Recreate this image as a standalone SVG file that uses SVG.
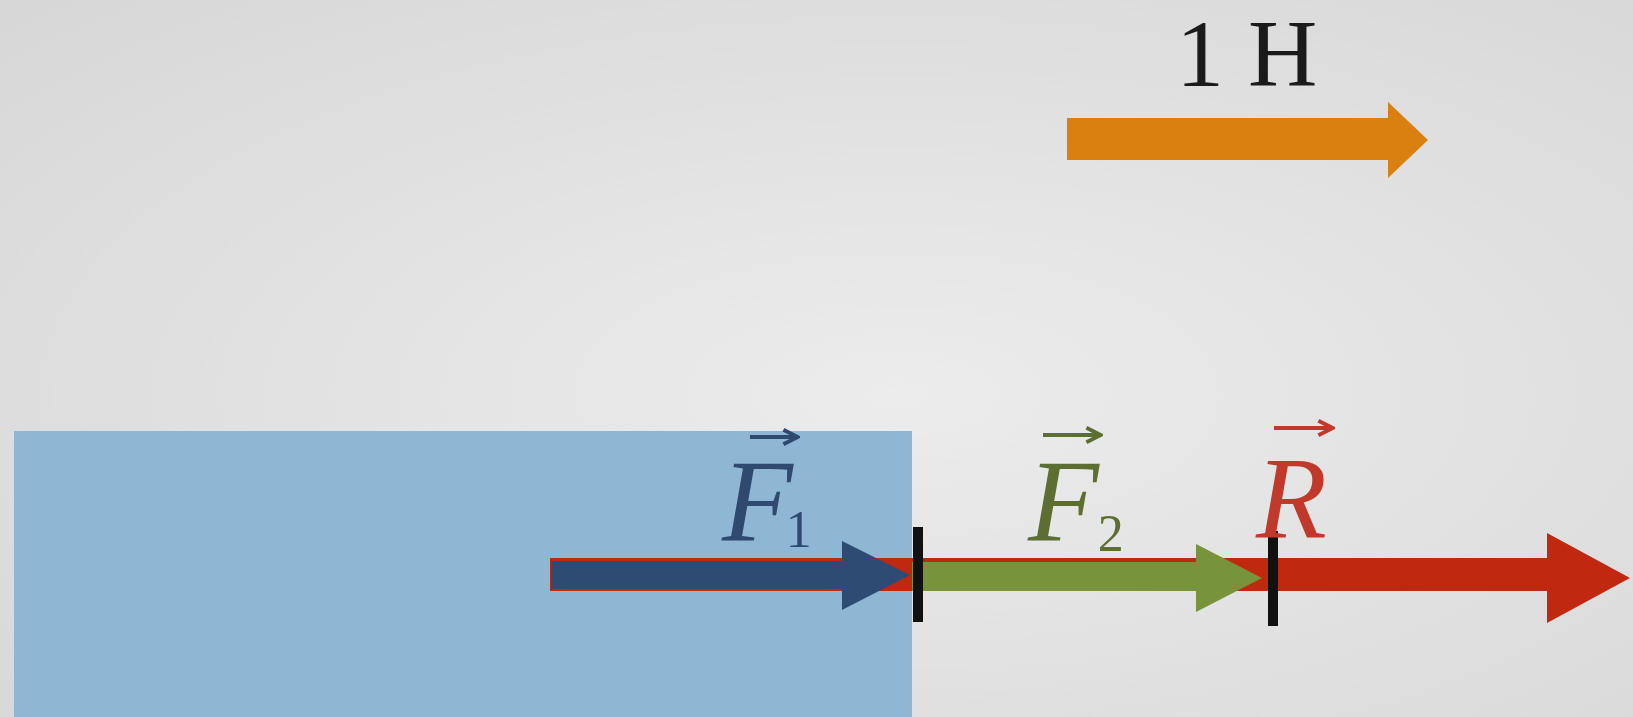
<svg xmlns="http://www.w3.org/2000/svg" width="1633" height="717" viewBox="0 0 1633 717">
<defs>
<radialGradient id="bg" cx="0.55" cy="0.55" r="0.8">
<stop offset="0" stop-color="#ececec"/>
<stop offset="1" stop-color="#d6d6d6"/>
</radialGradient>
<marker id="vec" viewBox="0 0 10 10" refX="8" refY="5" markerWidth="4.5" markerHeight="4.5" orient="auto" markerUnits="strokeWidth">
<path d="M1,1 L9,5 L1,9" fill="none" stroke="context-stroke" stroke-width="2.2"/>
</marker>
</defs>
<style>
.lbl{font-family:"Liberation Serif","DejaVu Serif",serif;font-style:italic;font-size:116px}
.sub{font-style:normal;font-size:52px}
.unit{font-family:"Liberation Serif","DejaVu Serif",serif;font-size:96px;fill:#1a1a1a}
.tick{fill:#111}
.va{stroke-width:4;fill:none}
</style>
<rect x="0" y="0" width="1633" height="717" fill="url(#bg)"/>
<g id="block"><rect x="14" y="431" width="898" height="286" fill="#8fb7d3"/></g>
<g id="scale">
<text class="unit" x="1176" y="86">1 H</text>
</g>
<g id="connectors">
<polygon id="scale-arrow" points="1067,118 1388,118 1388,102 1428,140 1388,178 1388,160 1067,160" fill="#d98010"/>
<polygon id="R-arrow" points="550,558 1547,558 1547,533 1630,578 1547,623 1547,591 550,591" fill="#c0280f"/>
<polygon id="F2-arrow" points="912,562 1196,562 1196,544 1262,578 1196,612 1196,591 912,591" fill="#77933c"/>
<polygon id="F1-arrow" points="551,561 842,561 842,541 910,575 842,610 842,589 551,589" fill="#2e4b73"/>
<rect class="tick" x="913" y="527" width="10" height="95"/>
<rect class="tick" x="1268" y="531" width="10" height="95"/>
</g>
<g id="label-F1" fill="#2f4a6e">
<text class="lbl" x="722" y="540">F<tspan class="sub" dx="-7" dy="7">1</tspan></text>
<line class="va" x1="750" y1="437" x2="796" y2="437" stroke="#2f4a6e" marker-end="url(#vec)"/>
</g>
<g id="label-F2" fill="#5e6e33">
<text class="lbl" x="1028" y="540">F<tspan class="sub" dx="-1" dy="11">2</tspan></text>
<line class="va" x1="1043" y1="435" x2="1099" y2="435" stroke="#5e6e33" marker-end="url(#vec)"/>
</g>
<g id="label-R" fill="#c0392b">
<text class="lbl" x="1256" y="538">R</text>
<line class="va" x1="1274" y1="428" x2="1331" y2="428" stroke="#c0392b" marker-end="url(#vec)"/>
</g>
</svg>
